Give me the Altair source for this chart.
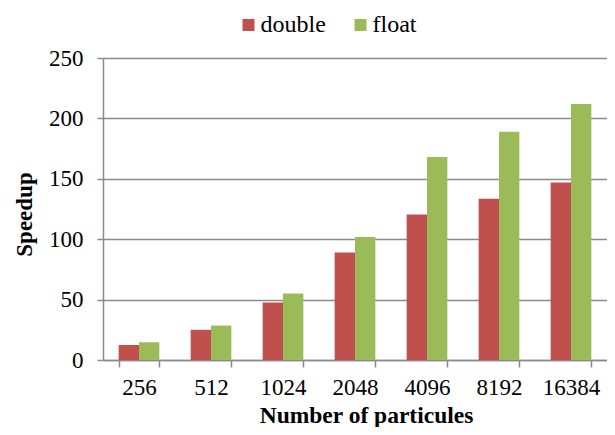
import altair as alt
import pandas as pd

particles = ["256", "512", "1024", "2048", "4096", "8192", "16384"]
double_vals = [12.4, 25.0, 47.5, 89.0, 120.5, 133.5, 147.0]
float_vals = [14.7, 28.5, 55.0, 101.8, 168.0, 189.0, 212.0]
series = ["double", "float"]
colors = ["#C0504D", "#9BBB59"]
y_ticks = [0, 50, 100, 150, 200, 250]

rows = []
for i, p in enumerate(particles):
    rows.append({"particles": p, "type": "double", "speedup": double_vals[i]})
    rows.append({"particles": p, "type": "float", "speedup": float_vals[i]})
df = pd.DataFrame(rows)

FONT = "Liberation Serif"
GREY = "#8a8a8a"

chart = alt.Chart(df).mark_bar().encode(
    x=alt.X(
        "particles:N",
        sort=particles,
        title="Number of particules",
        scale=alt.Scale(paddingInner=0.435, paddingOuter=0.2175),
        axis=alt.Axis(
            labelAngle=0, tickBand="extent", tickSize=7, tickColor=GREY, tickWidth=1.5,
            domainColor=GREY, domainWidth=1.5, labelFont=FONT, labelFontSize=23,
            labelColor="black", labelPadding=9, titleFont=FONT, titleFontSize=23.5,
            titleFontWeight="bold", titleColor="black", titleBaseline="alphabetic",
            titleX=263, titleY=62, grid=False,
        ),
    ),
    xOffset=alt.XOffset("type:N", sort=series),
    y=alt.Y(
        "speedup:Q",
        title="Speedup",
        scale=alt.Scale(domain=[0, 250], nice=False),
        axis=alt.Axis(
            values=y_ticks, tickSize=6, tickColor=GREY, tickWidth=1.5,
            domainColor=GREY, domainWidth=1.5, gridColor=GREY, gridWidth=1.5,
            labelFont=FONT, labelFontSize=23, labelColor="black", labelPadding=14,
            titleFont=FONT, titleFontSize=23, titleFontWeight="bold", titleColor="black",
            titleBaseline="middle", titleX=-79, titleY=156,
        ),
    ),
    color=alt.Color(
        "type:N",
        scale=alt.Scale(domain=series, range=colors),
        legend=alt.Legend(
            orient="none", legendX=133.5, legendY=-45, direction="horizontal", title=None,
            symbolType="square", symbolSize=144, symbolStrokeWidth=0, labelFont=FONT,
            labelFontSize=24, labelColor="black", labelOffset=0, columnPadding=22, padding=0,
        ),
    ),
).properties(
    width=504,
    height=302,
    autosize=alt.AutoSizeParams(type="none"),
    padding={"left": 95, "top": 50, "right": 0, "bottom": 67},
).configure(font=FONT).configure_legend(labelFont=FONT).configure_view(stroke=None)

chart.save("out.html", embed_options={"renderer": "svg", "actions": False})
